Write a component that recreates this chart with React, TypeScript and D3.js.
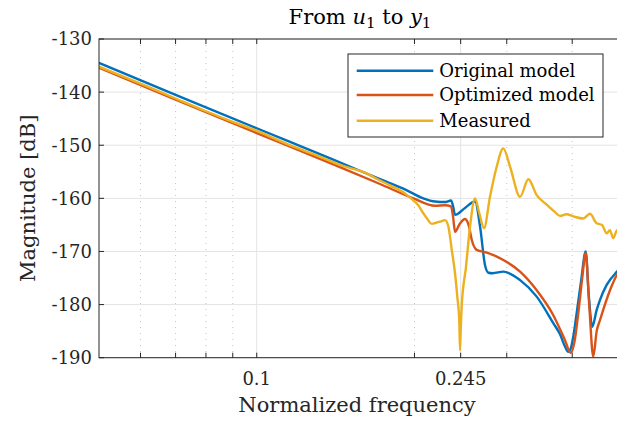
import React from "react";
import * as d3 from "d3";

// Original model (blue)
const freqOriginal = [
  0.05, 0.07, 0.1, 0.14, 0.1719, 0.1926, 0.2079, 0.2189, 0.2287, 0.2348, 0.237,
  0.239, 0.2497, 0.261, 0.2668, 0.2727, 0.2767, 0.282, 0.2955, 0.3181, 0.3422,
  0.3681, 0.3791, 0.3875, 0.3932, 0.3973, 0.4019, 0.4079, 0.416, 0.4244, 0.43,
  0.4369, 0.4454, 0.452, 0.4654, 0.487, 0.5,
];
const magOriginal = [
  -134.5, -140.5, -146.8, -152.7, -156.4, -158.4, -160.0, -160.6, -160.7, -160.4,
  -161.5, -163.1, -161.8, -160.6, -165.3, -172.6, -174.0, -174.1, -173.8, -175.4,
  -178.5, -183.5, -185.6, -187.9, -188.9, -188.3, -186.0, -181.6, -175.5, -170.0,
  -178.0, -184.2, -181.0, -179.1, -176.3, -173.8, -172.6,
];

// Optimized model (orange)
const freqOptimized = [
  0.05, 0.07, 0.1, 0.14, 0.1719, 0.199, 0.2189, 0.2287, 0.2348, 0.237, 0.239,
  0.244, 0.2497, 0.254, 0.2572, 0.2629, 0.2747, 0.2955, 0.3181, 0.3422, 0.3681,
  0.3875, 0.3973, 0.404, 0.4108, 0.418, 0.4244, 0.431, 0.4388, 0.4454, 0.452,
  0.4722, 0.487, 0.5,
];
const magOptimized = [
  -135.4, -141.4, -147.7, -153.6, -157.3, -160.0, -161.4, -161.3, -161.5, -163.5,
  -166.3, -164.8, -163.9, -165.2, -167.8, -169.7, -170.2, -171.6, -173.8, -177.3,
  -182.0, -186.7, -189.1, -187.0, -181.6, -175.0, -170.3, -180.0, -189.8, -185.0,
  -182.9, -177.3, -174.4, -173.2,
];

// Measured (yellow)
const freqMeasured = [
  0.05, 0.06, 0.07, 0.08, 0.09, 0.1, 0.115, 0.13, 0.145, 0.1613, 0.17, 0.18,
  0.1926, 0.199, 0.203, 0.2079, 0.212, 0.2157, 0.22, 0.2237, 0.2287, 0.2321,
  0.2356, 0.239, 0.2414, 0.2435, 0.2443, 0.2452, 0.2461, 0.2508, 0.2553, 0.261,
  0.2659, 0.2715, 0.2787, 0.2871, 0.2955, 0.3043, 0.3181, 0.3299, 0.3422, 0.3577,
  0.37, 0.3791, 0.39, 0.4019, 0.4199, 0.4325, 0.4454, 0.456, 0.4654, 0.472,
  0.4791, 0.487, 0.495, 0.5,
];
const magMeasured = [
  -135.2, -138.4, -141.2, -143.6, -145.6, -147.3, -149.9, -151.9, -153.8, -155.2,
  -156.4, -157.6, -159.2, -160.4, -161.2, -162.8, -164.0, -164.8, -164.6, -164.4,
  -164.1, -165.3, -169.7, -174.1, -178.5, -183.0, -188.6, -184.0, -180.4, -172.9,
  -165.3, -160.0, -162.8, -165.6, -159.7, -154.0, -150.6, -154.0, -159.7, -156.4,
  -159.4, -161.2, -162.5, -163.3, -163.0, -163.4, -163.8, -162.9, -164.7, -165.0,
  -166.6, -166.0, -167.5, -166.0, -167.2, -166.5,
];

const xTickValues = [0.1, 0.245];
const xTickLabels = ["0.1", "0.245"];
const xMinorTicks = [0.06, 0.07, 0.08, 0.09, 0.2, 0.3, 0.4];
const yTickValues = [-190, -180, -170, -160, -150, -140, -130];
const legendLabels = ["Original model", "Optimized model", "Measured"];
const colors = ["#0072BD", "#D95319", "#EDB120"];

function App() {
  const svgRef = React.useRef<SVGSVGElement>(null);

  React.useEffect(() => {
    const left = 99;
    const right = 623;
    const top = 39;
    const bottom = 357.7;
    const font = "'DejaVu Serif', serif";
    const ink = "#262626";

    const svg = d3.select(svgRef.current);
    svg.selectAll("*").remove();

    // scales
    const x = d3.scaleLog().domain([0.05, 0.5]).range([left, right]);
    const y = d3.scaleLinear().domain([-190, -130]).range([bottom, top]);

    svg
      .append("defs")
      .append("clipPath")
      .attr("id", "plot-clip")
      .append("rect")
      .attr("x", left)
      .attr("y", top)
      .attr("width", right - left)
      .attr("height", bottom - top);

    svg.append("rect").attr("width", 617).attr("height", 423).attr("fill", "#fff");

    // grid
    const grid = svg.append("g");
    grid
      .selectAll(".ygrid")
      .data(yTickValues)
      .join("line")
      .attr("x1", left)
      .attr("x2", right)
      .attr("y1", (d) => y(d))
      .attr("y2", (d) => y(d))
      .attr("stroke", "#e3e3e3")
      .attr("stroke-width", 1);
    grid
      .selectAll(".xgrid")
      .data(xTickValues)
      .join("line")
      .attr("x1", (d) => x(d))
      .attr("x2", (d) => x(d))
      .attr("y1", top)
      .attr("y2", bottom)
      .attr("stroke", "#e3e3e3")
      .attr("stroke-width", 1);
    grid
      .selectAll(".xminor")
      .data(xMinorTicks)
      .join("line")
      .attr("x1", (d) => x(d))
      .attr("x2", (d) => x(d))
      .attr("y1", top)
      .attr("y2", bottom)
      .attr("stroke", "#c4c4c4")
      .attr("stroke-width", 1)
      .attr("stroke-dasharray", "1,5");

    // curves
    const series = [
      { f: freqOriginal, m: magOriginal },
      { f: freqOptimized, m: magOptimized },
      { f: freqMeasured, m: magMeasured },
    ];
    const line = d3
      .line<[number, number]>()
      .x((d) => x(d[0]))
      .y((d) => y(d[1]))
      .curve(d3.curveMonotoneX);
    const plot = svg.append("g").attr("clip-path", "url(#plot-clip)");
    series.forEach((s, i) => {
      const pts = s.f.map((f, k) => [f, s.m[k]] as [number, number]);
      plot
        .append("path")
        .attr("d", line(pts))
        .attr("fill", "none")
        .attr("stroke", colors[i])
        .attr("stroke-width", 2.4)
        .attr("stroke-linejoin", "round");
    });

    // frame
    svg
      .append("rect")
      .attr("x", left)
      .attr("y", top)
      .attr("width", right - left)
      .attr("height", bottom - top)
      .attr("fill", "none")
      .attr("stroke", ink)
      .attr("stroke-width", 1);

    // tick marks (inward, bottom and top)
    const tickLen = 5;
    const allX = [...xTickValues, ...xMinorTicks];
    const ticks = svg.append("g").attr("stroke", ink).attr("stroke-width", 1);
    allX.forEach((d) => {
      ticks.append("line").attr("x1", x(d)).attr("x2", x(d)).attr("y1", bottom).attr("y2", bottom - tickLen);
      ticks.append("line").attr("x1", x(d)).attr("x2", x(d)).attr("y1", top).attr("y2", top + tickLen);
    });
    yTickValues.forEach((d) => {
      ticks.append("line").attr("x1", left).attr("x2", left + tickLen).attr("y1", y(d)).attr("y2", y(d));
      ticks.append("line").attr("x1", right).attr("x2", right - tickLen).attr("y1", y(d)).attr("y2", y(d));
    });

    // tick labels
    svg
      .append("g")
      .selectAll("text")
      .data(xTickValues)
      .join("text")
      .attr("x", (d) => x(d))
      .attr("y", 385)
      .attr("text-anchor", "middle")
      .attr("font-family", font)
      .attr("font-size", 18)
      .attr("fill", ink)
      .text((d, i) => xTickLabels[i]);
    svg
      .append("g")
      .selectAll("text")
      .data(yTickValues)
      .join("text")
      .attr("x", left - 7)
      .attr("y", (d) => y(d))
      .attr("dy", "0.36em")
      .attr("text-anchor", "end")
      .attr("font-family", font)
      .attr("font-size", 18)
      .attr("fill", ink)
      .text((d) => String(d));

    // axis labels
    svg
      .append("text")
      .attr("x", 357)
      .attr("y", 411.5)
      .attr("text-anchor", "middle")
      .attr("font-family", font)
      .attr("font-size", 21)
      .attr("fill", ink)
      .text("Normalized frequency");
    svg
      .append("text")
      .attr("transform", `translate(35, ${(top + bottom) / 2}) rotate(-90)`)
      .attr("text-anchor", "middle")
      .attr("font-family", font)
      .attr("font-size", 21)
      .attr("fill", ink)
      .text("Magnitude [dB]");

    // title
    const title = svg
      .append("text")
      .attr("x", (left + right) / 2 - 1)
      .attr("y", 24)
      .attr("text-anchor", "middle")
      .attr("font-family", font)
      .attr("font-size", 21)
      .attr("fill", "#000");
    title.append("tspan").text("From ");
    title.append("tspan").attr("font-style", "italic").text("u");
    title.append("tspan").attr("font-size", 15).attr("dy", 4).text("1");
    title.append("tspan").attr("dy", -4).text(" to ");
    title.append("tspan").attr("font-style", "italic").text("y");
    title.append("tspan").attr("font-size", 15).attr("dy", 4).text("1");

    // legend
    const lg = svg.append("g");
    lg.append("rect")
      .attr("x", 348)
      .attr("y", 54)
      .attr("width", 255)
      .attr("height", 83)
      .attr("fill", "#fff")
      .attr("stroke", ink)
      .attr("stroke-width", 1);
    const rowY = [70.7, 95, 120.7];
    legendLabels.forEach((label, i) => {
      lg.append("line")
        .attr("x1", 356.7)
        .attr("x2", 433.3)
        .attr("y1", rowY[i])
        .attr("y2", rowY[i])
        .attr("stroke", colors[i])
        .attr("stroke-width", 2.4);
      lg.append("text")
        .attr("x", 439.3)
        .attr("y", rowY[i])
        .attr("dy", "0.36em")
        .attr("font-family", font)
        .attr("font-size", 18)
        .attr("fill", "#000")
        .text(label);
    });
  }, []);

  return (
    <svg
      ref={svgRef}
      width={617}
      height={423}
      style={{ position: "absolute", left: 0, top: 0, display: "block" }}
    />
  );
}

export default App;
